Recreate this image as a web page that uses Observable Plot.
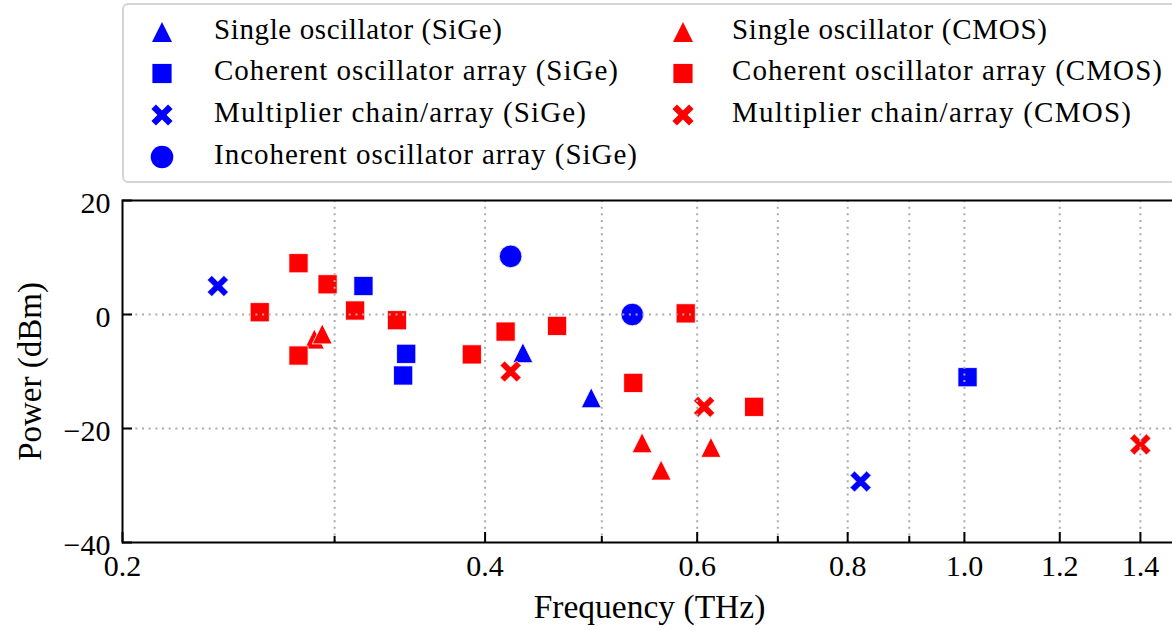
<!DOCTYPE html>
<html><head><meta charset="utf-8">
<script src="https://cdn.jsdelivr.net/npm/d3@7"></script>
<script src="https://cdn.jsdelivr.net/npm/@observablehq/plot@0.6"></script>
<style>
html,body{margin:0;padding:0;background:#fff;overflow:hidden;}
#wrap{position:relative;width:1172px;height:630px;overflow:hidden;font-family:"Liberation Serif",serif;color:#000;}
#legend{position:absolute;left:0;top:0;}
#chart{position:absolute;left:0;top:186px;width:1180px;height:444px;}
#chart svg{max-width:none !important;}
</style></head>
<body><div id="wrap"><div id="legend"></div><div id="chart"></div></div>
<script>
// ---- data (frequency in THz, power in dBm) ----
const sigeSingleF = [0.430, 0.490];
const sigeSingleP = [-6.7, -14.6];
const sigeCoherentF = [0.317, 0.344, 0.342, 1.006];
const sigeCoherentP = [5.0, -6.9, -10.7, -11.0];
const sigeMultF = [0.240, 0.820];
const sigeMultP = [5.0, -29.3];
const sigeIncohF = [0.420, 0.530];
const sigeIncohP = [10.2, 0.0];
const cmosSingleF = [0.2886, 0.293, 0.540, 0.560, 0.616];
const cmosSingleP = [-4.3, -3.4, -22.5, -27.3, -23.3];
const cmosCoherentF = [0.260, 0.280, 0.296, 0.312, 0.338, 0.280, 0.390, 0.416, 0.459, 0.531, 0.587, 0.669];
const cmosCoherentP = [0.4, 9.0, 5.3, 0.7, -1.0, -7.2, -7.0, -3.0, -2.0, -12.0, 0.2, -16.2];
const cmosMultF = [0.420, 0.608, 1.400];
const cmosMultP = [-10.0, -16.2, -22.8];

const seriesNames = [
  "Single oscillator (SiGe)", "Coherent oscillator array (SiGe)",
  "Multiplier chain/array (SiGe)", "Incoherent oscillator array (SiGe)",
  "Single oscillator (CMOS)", "Coherent oscillator array (CMOS)",
  "Multiplier chain/array (CMOS)"
];
const xMajorTicks = [0.2, 0.4, 0.6, 0.8, 1.0, 1.2, 1.4];
const xMinorTicks = [0.3, 0.5, 0.7, 0.9];
const xGridTicks = [0.3, 0.4, 0.5, 0.6, 0.7, 0.8, 0.9, 1.0, 1.2, 1.4];
const yTicks = [-40, -20, 0, 20];
const yGridTicks = [-20, 0];

// ---- marker shapes (matplotlib-like) ----
const rad = s => Math.sqrt(s / Math.PI);
const symSquare = {draw(c, s){const r = rad(s); c.moveTo(-r,-r); c.lineTo(r,-r); c.lineTo(r,r); c.lineTo(-r,r); c.closePath();}};
const symTri = {draw(c, s){const r = rad(s); c.moveTo(0,-r); c.lineTo(r,r); c.lineTo(-r,r); c.closePath();}};
const symCircle = {draw(c, s){const r = rad(s); c.moveTo(r,0); c.arc(0,0,r,0,2*Math.PI); c.closePath();}};
const symX = {draw(c, s){const r = rad(s), t = r*0.43;
  c.moveTo(-r,-r+t); c.lineTo(-r+t,-r); c.lineTo(0,-t); c.lineTo(r-t,-r); c.lineTo(r,-r+t); c.lineTo(t,0);
  c.lineTo(r,r-t); c.lineTo(r-t,r); c.lineTo(0,t); c.lineTo(-r+t,r); c.lineTo(-r,r-t); c.lineTo(-t,0); c.closePath();}};

const BLUE = "#0000ff", RED = "#ff0000";
const series = [
  {name: seriesNames[0], f: sigeSingleF, p: sigeSingleP, sym: symTri, r: 10, color: BLUE},
  {name: seriesNames[1], f: sigeCoherentF, p: sigeCoherentP, sym: symSquare, r: 9.6, color: BLUE},
  {name: seriesNames[2], f: sigeMultF, p: sigeMultP, sym: symX, r: 10.6, color: BLUE},
  {name: seriesNames[3], f: sigeIncohF, p: sigeIncohP, sym: symCircle, r: 11.3, color: BLUE},
  {name: seriesNames[4], f: cmosSingleF, p: cmosSingleP, sym: symTri, r: 10, color: RED},
  {name: seriesNames[5], f: cmosCoherentF, p: cmosCoherentP, sym: symSquare, r: 9.6, color: RED},
  {name: seriesNames[6], f: cmosMultF, p: cmosMultP, sym: symX, r: 10.6, color: RED}
];

// ---- legend (layout only) ----
const legendLayout = {
  rowMarkerY: [32, 73.5, 115, 157],
  rowBaseline: [38.5, 80.3, 122, 164],
  colMarkerX: [162, 683],
  colTextX: [214, 732],
  pos: [[0,0],[0,1],[0,2],[0,3],[1,0],[1,1],[1,2]],
  textLen: [288, 404, 372, 423, 315, 430, 399]
};
const lsvg = d3.create("svg").attr("width", 1172).attr("height", 186).style("display", "block");
lsvg.append("rect").attr("x", 123).attr("y", 4).attr("width", 1100).attr("height", 178)
  .attr("rx", 5).attr("fill", "#fff").attr("stroke", "#d4d4d4").attr("stroke-width", 2);
series.forEach((s, i) => {
  const [col, row] = legendLayout.pos[i];
  lsvg.append("path")
    .attr("transform", `translate(${legendLayout.colMarkerX[col]},${legendLayout.rowMarkerY[row]})`)
    .attr("d", d3.symbol(s.sym, Math.PI * s.r * s.r)()).attr("fill", s.color);
  lsvg.append("text")
    .attr("x", legendLayout.colTextX[col]).attr("y", legendLayout.rowBaseline[row])
    .attr("font-family", "'Liberation Serif', serif").attr("font-size", 29)
    .attr("textLength", legendLayout.textLen[i]).attr("lengthAdjust", "spacing")
    .attr("fill", "#000").text(s.name);
});
document.getElementById("legend").appendChild(lsvg.node());

// ---- chart ----
const toRows = s => s.f.map((f, i) => ({f, p: s.p[i]}));
const dotMarks = series.map(s => Plot.dot(toRows(s), {
  x: "f", y: "p", r: s.r, symbol: s.sym, fill: s.color,
  stroke: "white", strokeWidth: 1, strokeOpacity: 0.8
}));
const gridStyle = {stroke: "#ababab", strokeOpacity: 1, strokeWidth: 2, strokeDasharray: "2,4.67"};
const plotH = 342, plotW = 1054;

const chart = Plot.plot({
  width: 1180, height: 444,
  marginLeft: 122, marginRight: 4, marginTop: 14, marginBottom: 88,
  x: {type: "log", domain: [0.2, 1.5], axis: null},
  y: {domain: [-40, 20], axis: null},
  style: {fontFamily: "'Liberation Serif', serif", fontSize: "30px", color: "#000", background: "transparent", overflow: "visible", maxWidth: "none"},
  marks: [
    ...dotMarks,
    Plot.gridX(xGridTicks, gridStyle),
    Plot.gridY(yGridTicks, gridStyle),
    Plot.frame({stroke: "#000", strokeWidth: 2}),
    Plot.tickX(xMajorTicks, {x: d => d, stroke: "#000", strokeWidth: 2, insetTop: plotH - 10}),
    Plot.tickX(xMinorTicks, {x: d => d, stroke: "#000", strokeWidth: 2, insetTop: plotH - 6}),
    Plot.tickY(yTicks, {y: d => d, stroke: "#000", strokeWidth: 2, insetRight: plotW - 10}),
    Plot.axisX(xMajorTicks, {tickSize: 0, tickPadding: 12, tickFormat: d3.format(".1f"), label: null, fontSize: 30}),
    Plot.axisY(yTicks, {tickSize: 0, tickPadding: 12, tickFormat: d3.format("d"), label: null, fontSize: 30, dy: 3}),
    Plot.text(["Frequency (THz)"], {frameAnchor: "bottom", dy: 65, fontSize: 33.5, lineAnchor: "middle", textAnchor: "middle"}),
    Plot.text(["Power (dBm)"], {frameAnchor: "left", dx: -92, rotate: -90, fontSize: 33, lineAnchor: "middle", textAnchor: "middle"})
  ]
});
document.getElementById("chart").appendChild(chart);
</script></body></html>
